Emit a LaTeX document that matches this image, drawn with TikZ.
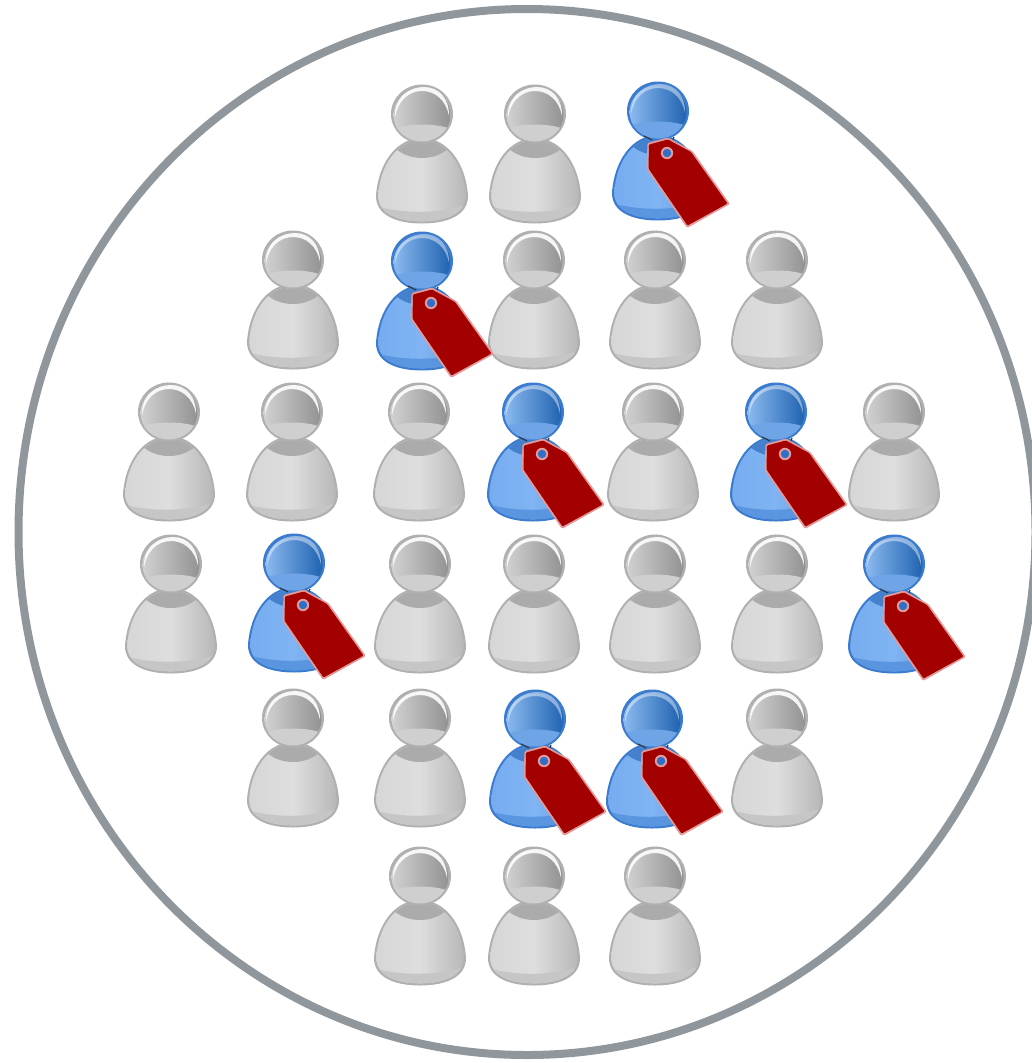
\documentclass[tikz,border=0pt]{standalone}
\definecolor{ringc}{HTML}{8F969C}
\definecolor{tagc}{HTML}{A30000}
\definecolor{tagedge}{HTML}{E29A9A}
\definecolor{gEdge}{HTML}{B0B0B0}
\definecolor{gBodyL}{HTML}{D6D6D6}
\definecolor{gBodyM}{HTML}{DEDEDE}
\definecolor{gBodyR}{HTML}{B6B6B6}
\definecolor{gNeck}{HTML}{ABABAB}
\definecolor{gBand}{HTML}{C6C6C6}
\definecolor{gHeadL}{HTML}{D2D2D2}
\definecolor{gHeadR}{HTML}{929292}
\definecolor{gHeadLow}{HTML}{CFCFCF}
\definecolor{bEdge}{HTML}{3B7CCF}
\definecolor{bBodyL}{HTML}{76ACF0}
\definecolor{bBodyM}{HTML}{80B4F3}
\definecolor{bBodyR}{HTML}{5F9AE4}
\definecolor{bNeck}{HTML}{4580CC}
\definecolor{bBand}{HTML}{5A95E0}
\definecolor{bHeadL}{HTML}{8CBBF0}
\definecolor{bHeadR}{HTML}{1F62B0}
\definecolor{bHeadLow}{HTML}{6FA5E6}
\definecolor{bHole}{HTML}{2F6FC8}
\newcommand{\bodypath}{(0,24) .. controls (26,24) and (44,50) .. (46,82) .. controls (46,101) and (26,109.5) .. (0,109.5) .. controls (-26,109.5) and (-46,101) .. (-46,82) .. controls (-44,50) and (-26,24) .. (0,24) -- cycle}
\newcommand{\personshape}[9]{%
  % #1 edge #2 body left #3 body middle #4 body right #5 neck #6 band #7 head left #8 head right #9 head lower
  \fill[#1] \bodypath;
  \begin{scope}
    \clip (0,26.5) .. controls (25,26.5) and (42,51) .. (43.8,82) .. controls (43.8,99) and (25,107.3) .. (0,107.3) .. controls (-25,107.3) and (-43.8,99) .. (-43.8,82) .. controls (-42,51) and (-25,26.5) .. (0,26.5) -- cycle;
    \shade[left color=#2,right color=#4,middle color=#3] (-46,20) rectangle (46,112);
    \fill[#5] (0,18) ellipse (34 and 26);
    \fill[#6] (-46,92) .. controls (-20,100) and (20,100) .. (46,90) -- (46,112) -- (-46,112) -- cycle;
  \end{scope}
  \fill[#1] (0,0) ellipse (31 and 29.5);
  \begin{scope}
    \clip (0,1) ellipse (28.5 and 26.5);
    \shade[left color=#7,right color=#8] (-29,-27) rectangle (29,28);
    \fill[#9] (-29,28) -- (-29,15) .. controls (-14,9) and (14,9) .. (29,15) -- (29,28) -- cycle;
  \end{scope}
  \fill[white,opacity=\hlop] (-27,4) .. controls (-28,-18) and (-12,-27) .. (2,-27) .. controls (17,-27) and (27.5,-15) .. (27,2) .. controls (24,-14) and (13,-23) .. (0,-23) .. controls (-14,-23) and (-25,-12) .. (-27,4) -- cycle;
}
\tikzset{
  grayperson/.pic={\def\hlop{.9}\personshape{gEdge}{gBodyL}{gBodyM}{gBodyR}{gNeck}{gBand}{gHeadL}{gHeadR}{gHeadLow}},
  blueperson/.pic={%
    \def\hlop{.45}\personshape{bEdge}{bBodyL}{bBodyM}{bBodyR}{bNeck}{bBand}{bHeadL}{bHeadR}{bHeadLow}
    \draw[black!80,line width=1.1pt] (-14,25) -- (-6,29);
    \draw[black!80,line width=1.1pt] (9,42) .. controls (12,36) and (14,32) .. (16,26);
    \fill[tagedge,rounded corners=1.5pt] (-10.5,32) -- (10,26.5) -- (34.5,40) -- (72,93) -- (29,117) -- (-11.5,58) -- cycle;
    \fill[tagc,rounded corners=1pt] (-9,33.5) -- (10,28.5) -- (33,41) -- (69.5,92.5) -- (29.5,114.5) -- (-9.5,57.5) -- cycle;
    \fill[tagedge] (9,42) circle (6.2);
    \fill[bHole] (9,42) circle (4.2);
  }
}
\begin{document}
\begin{tikzpicture}[x=1pt,y=-1pt]
\useasboundingbox (0,0) rectangle (1031,1063);
\draw[ringc,line width=8pt] (527,532) ellipse (508.5 and 523);
% gray people (head centres)
\foreach \x/\y in {422/114,535/114,
  293/260,534/260,655/260,777/260,
  169/412,292/412,419/412,653/412,894/412,
  171/564,420/564,534/564,655/564,777/564,
  293/718,420/718,777/718,
  420/876,534/876,655/876}
  \pic at (\x,\y) {grayperson};
% tagged blue people
\foreach \x/\y in {658/111,422/261,533/412,776/412,294/563,894/564,535/719,652/719}
  \pic at (\x,\y) {blueperson};
\end{tikzpicture}
\end{document}
